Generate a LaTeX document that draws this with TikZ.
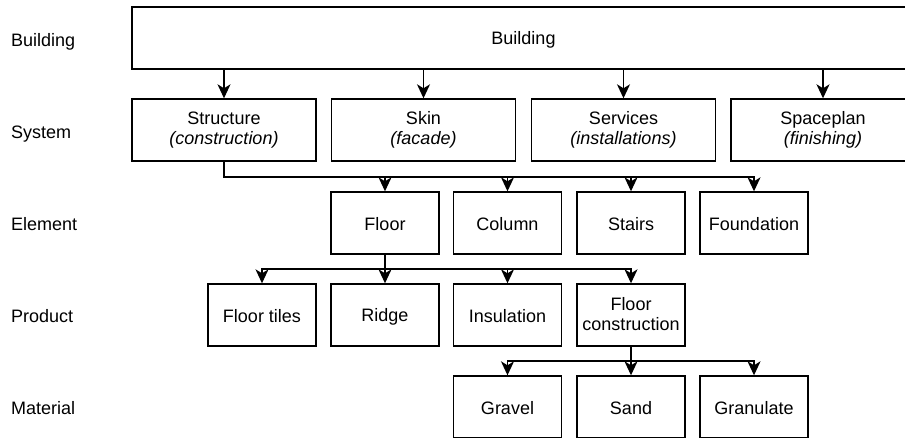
\documentclass[tikz,border=0pt]{standalone}
\usepackage{fontspec}
\setmainfont{Liberation Sans}
\usetikzlibrary{arrows.meta}
% fixed line height and depth so every box sets its text at the same level
\newcommand{\boxstrut}{\rule[-2pt]{0pt}{19pt}}
\begin{document}
\begin{tikzpicture}[x=1pt,y=-1pt,
  txt/.style={font=\fontsize{18}{20}\selectfont},
  box/.style={txt, draw, line width=1.4pt, minimum height=62pt, inner sep=0pt, align=center,
    execute at begin node=\boxstrut, execute at end node=\boxstrut},
  sbox/.style={box, minimum width=108pt},
  wbox/.style={box, minimum width=184pt},
  lvl/.style={txt, anchor=base west, inner sep=0pt},
  arr/.style={line width=1.4pt, -{Stealth[length=14pt,width=13pt,inset=4pt]}},
]
\useasboundingbox (0,0) rectangle (905,437);
\clip (0,0) rectangle (905,437);

% level names
\node[lvl] (lbld) at (11,46)  {Building};
\node[lvl] (lsys) at (11,138) {System};
\node[lvl] (lele) at (11,230) {Element};
\node[lvl] (lpro) at (11,322) {Product};
\node[lvl] (lmat) at (11,414) {Material};

% building
\node[box, minimum width=783pt] (bld) at (523.5,38) {Building};

% systems
\node[wbox] (str) at (224,130)   {Structure\\\textit{(construction)}};
\node[wbox] (skn) at (423.5,130) {Skin\\\textit{(facade)}};
\node[wbox] (srv) at (623.5,130) {Services\\\textit{(installations)}};
\node[wbox] (spc) at (823,130)   {Spaceplan\\\textit{(finishing)}};

% elements
\node[sbox] (flr) at (385,223)   {Floor};
\node[sbox] (col) at (507.5,223) {Column};
\node[sbox] (sta) at (631,223)   {Stairs};
\node[sbox] (fnd) at (754,223)   {Foundation};

% products
\node[sbox] (til) at (262,315)   {Floor tiles};
\node[sbox] (rdg) at (385,315)   {Ridge};
\node[sbox] (ins) at (507.5,315) {Insulation};
\node[sbox] (fcn) at (631,315)   {Floor\\construction};

% materials
\node[sbox] (grv) at (507.5,407) {Gravel};
\node[sbox] (snd) at (631,407)   {Sand};
\node[sbox] (grn) at (754,407)   {Granulate};

% building -> systems
\foreach \t in {str,skn,srv,spc}
  \draw[arr] (\t.north |- bld.south) -- (\t.north);

% structure -> elements
\coordinate (sbus) at (224,177);
\foreach \t in {flr,col,sta,fnd}
  \draw[arr] (str.south) -- (sbus) -| (\t.north);

% floor -> products
\coordinate (fbus) at (385,269);
\foreach \t in {til,rdg,ins,fcn}
  \draw[arr] (flr.south) -- (fbus) -| (\t.north);

% floor construction -> materials
\coordinate (mbus) at (631,361);
\foreach \t in {grv,snd,grn}
  \draw[arr] (fcn.south) -- (mbus) -| (\t.north);
\end{tikzpicture}
\end{document}
